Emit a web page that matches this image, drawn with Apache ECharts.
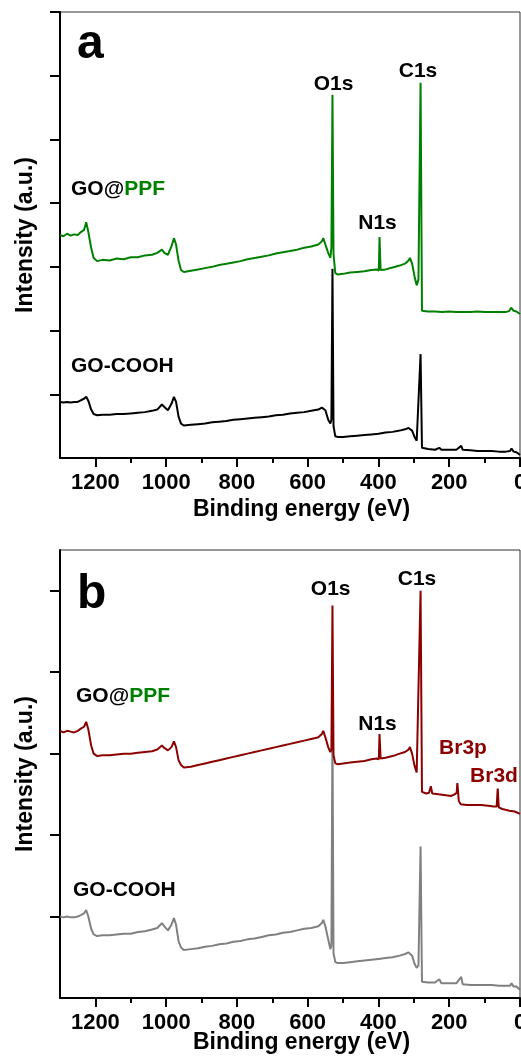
<!DOCTYPE html>
<html><head><meta charset="utf-8">
<script src="https://cdn.jsdelivr.net/npm/echarts@6/dist/echarts.min.js"></script>
<style>html,body{margin:0;padding:0;background:#fff;overflow:hidden}#c{width:521px;height:1063px}</style>
</head><body><div id="c"></div>
<script>
// ---- tick values ----
const xMajorTicks = [0, 200, 400, 600, 800, 1000, 1200];
const xMinorTicks = [100, 300, 500, 700, 900, 1100];
const yTicksA = [1, 2, 3, 4, 5, 6, 7];
const yTicksB = [1, 2, 3, 4, 5];

// ---- panel a : [binding energy (eV), intensity (a.u.)] ----
const goCoohA = [[1300,0.88],[1290,0.87],[1280,0.88],[1270,0.87],[1260,0.88],[1250,0.88],[1240,0.91],[1232,0.93],[1226,0.96],[1220,0.90],[1212,0.76],[1205,0.69],[1195,0.67],[1180,0.68],[1160,0.68],[1140,0.69],[1120,0.69],[1100,0.70],[1080,0.71],[1060,0.72],[1040,0.74],[1025,0.76],[1012,0.84],[1005,0.80],[995,0.75],[985,0.85],[978,0.96],[972,0.88],[965,0.65],[958,0.54],[950,0.51],[930,0.52],[910,0.53],[890,0.54],[870,0.56],[850,0.57],[830,0.58],[810,0.60],[790,0.61],[770,0.62],[750,0.63],[730,0.64],[710,0.65],[690,0.67],[670,0.68],[650,0.70],[630,0.71],[610,0.72],[590,0.74],[570,0.76],[560,0.79],[556,0.82],[550,0.75],[542,0.60],[536,0.54],[533,0.60],[530,2.97],[527,0.50],[522,0.34],[515,0.33],[500,0.33],[480,0.34],[460,0.35],[440,0.36],[420,0.37],[400,0.38],[380,0.40],[360,0.41],[340,0.43],[325,0.45],[315,0.47],[311,0.48],[305,0.43],[298,0.33],[292,0.27],[287,0.30],[281,1.63],[277,0.16],[260,0.14],[240,0.13],[228,0.16],[222,0.13],[200,0.13],[180,0.13],[166,0.19],[162,0.13],[140,0.12],[120,0.11],[100,0.11],[80,0.11],[60,0.10],[40,0.10],[28,0.11],[24,0.15],[18,0.10],[10,0.09],[0,0.05]];
const goPpfA = [[1300,3.50],[1290,3.48],[1280,3.52],[1270,3.49],[1260,3.51],[1250,3.50],[1240,3.55],[1232,3.58],[1226,3.70],[1220,3.55],[1212,3.30],[1205,3.14],[1195,3.09],[1180,3.11],[1160,3.10],[1140,3.13],[1120,3.12],[1100,3.15],[1080,3.15],[1060,3.18],[1040,3.19],[1025,3.22],[1012,3.27],[1005,3.22],[995,3.19],[985,3.32],[978,3.45],[972,3.35],[965,3.10],[958,2.95],[950,2.92],[930,2.94],[910,2.96],[890,2.98],[870,3.00],[850,3.03],[830,3.05],[810,3.07],[790,3.09],[770,3.12],[750,3.14],[730,3.16],[710,3.18],[690,3.21],[670,3.23],[650,3.25],[630,3.27],[610,3.30],[590,3.32],[570,3.35],[560,3.40],[556,3.45],[550,3.35],[542,3.22],[536,3.14],[533,3.30],[530,5.70],[527,3.20],[522,2.90],[515,2.88],[500,2.89],[480,2.91],[460,2.92],[440,2.93],[420,2.95],[405,2.96],[399,2.94],[397,3.47],[394,2.95],[380,2.96],[360,2.99],[340,3.02],[325,3.05],[315,3.10],[311,3.14],[305,3.05],[298,2.85],[292,2.71],[287,2.80],[281,5.89],[277,2.31],[260,2.30],[240,2.30],[220,2.29],[200,2.30],[180,2.29],[160,2.29],[140,2.29],[120,2.30],[100,2.29],[80,2.29],[60,2.29],[40,2.29],[30,2.31],[25,2.36],[18,2.31],[10,2.30],[0,2.26]];

// ---- panel b ----
const goCoohB = [[1300,1.00],[1290,0.99],[1280,1.00],[1270,0.99],[1260,0.99],[1250,1.00],[1240,1.02],[1232,1.04],[1226,1.08],[1220,1.00],[1212,0.85],[1205,0.78],[1195,0.76],[1180,0.77],[1160,0.77],[1140,0.78],[1120,0.79],[1100,0.79],[1080,0.81],[1060,0.82],[1040,0.84],[1025,0.86],[1012,0.92],[1005,0.88],[995,0.83],[985,0.90],[978,0.98],[972,0.90],[965,0.70],[958,0.62],[950,0.59],[930,0.60],[910,0.61],[890,0.63],[870,0.64],[850,0.66],[830,0.67],[810,0.69],[790,0.70],[770,0.72],[750,0.73],[730,0.75],[710,0.77],[690,0.78],[670,0.80],[650,0.81],[630,0.83],[610,0.85],[590,0.86],[570,0.88],[560,0.92],[556,0.96],[550,0.88],[542,0.72],[536,0.60],[533,0.65],[530,3.30],[527,0.55],[522,0.44],[515,0.43],[500,0.43],[480,0.44],[460,0.45],[440,0.46],[420,0.47],[400,0.48],[380,0.49],[360,0.50],[340,0.52],[325,0.54],[315,0.56],[311,0.57],[305,0.52],[298,0.42],[292,0.37],[287,0.40],[281,1.86],[277,0.20],[260,0.19],[240,0.19],[228,0.23],[222,0.18],[200,0.18],[180,0.18],[166,0.26],[162,0.17],[140,0.16],[120,0.16],[100,0.16],[80,0.16],[60,0.15],[40,0.15],[28,0.15],[24,0.18],[18,0.14],[10,0.14],[0,0.10]];
const goPpfB = [[1300,3.28],[1290,3.26],[1280,3.28],[1270,3.27],[1260,3.26],[1250,3.28],[1240,3.31],[1232,3.33],[1226,3.39],[1220,3.30],[1212,3.10],[1205,3.00],[1195,2.97],[1180,2.98],[1160,2.98],[1140,2.99],[1120,3.00],[1100,3.00],[1080,3.01],[1060,3.02],[1040,3.03],[1025,3.05],[1012,3.10],[1005,3.07],[995,3.04],[985,3.08],[978,3.15],[972,3.08],[965,2.92],[958,2.86],[950,2.83],[930,2.84],[910,2.86],[890,2.88],[870,2.90],[850,2.92],[830,2.94],[810,2.96],[790,2.98],[770,3.00],[750,3.02],[730,3.04],[710,3.06],[690,3.08],[670,3.10],[650,3.12],[630,3.14],[610,3.16],[590,3.18],[570,3.20],[560,3.24],[556,3.28],[550,3.20],[542,3.08],[536,3.02],[533,3.05],[530,4.82],[527,2.98],[522,2.88],[515,2.87],[500,2.88],[480,2.89],[460,2.90],[440,2.91],[420,2.93],[405,2.94],[399,2.93],[397,3.24],[394,2.94],[380,2.95],[360,2.97],[340,3.00],[325,3.02],[315,3.05],[311,3.08],[305,3.00],[298,2.85],[292,2.77],[287,2.76],[281,5.00],[277,2.53],[265,2.51],[257,2.52],[252,2.60],[248,2.51],[230,2.50],[210,2.49],[195,2.48],[185,2.50],[179,2.52],[177,2.64],[173,2.42],[168,2.38],[150,2.37],[130,2.37],[110,2.37],[90,2.36],[75,2.35],[66,2.35],[63,2.57],[60,2.34],[50,2.32],[30,2.30],[15,2.29],[0,2.26]];

// ---- texts ----
const panelLetters = ['a', 'b'];
const sampleNames = ['GO-COOH', 'GO@', 'PPF'];
const peakNamesA = ['O1s', 'C1s', 'N1s'];
const peakNamesB = ['O1s', 'C1s', 'N1s', 'Br3p', 'Br3d'];
const xName = 'Binding energy (eV)';
const yName = 'Intensity (a.u.)';

// ---- styling ----
const FF = '"Liberation Sans", Arial, Helvetica, sans-serif';
const GREEN = '#008000', DARKRED = '#8b0000', GRAY = '#808080', BLACK = '#000';

const chart = echarts.init(document.getElementById('c'), null, {renderer: 'canvas'});

function xAxes(gi) {
  return [{
    gridIndex: gi, type: 'value', inverse: true, min: 0, max: 1300, interval: 200, position: 'bottom',
    axisLine: {show: true, onZero: false, lineStyle: {color: BLACK, width: 2}},
    axisTick: {show: true, inside: false, length: 9, lineStyle: {color: BLACK, width: 2}, customValues: xMajorTicks},
    axisLabel: {show: true, customValues: xMajorTicks, margin: 14, color: BLACK, fontSize: 22, fontWeight: 'bold', fontFamily: FF,
      formatter: function (v) { return String(v); }},
    splitLine: {show: false}
  }, {
    gridIndex: gi, type: 'value', inverse: true, min: 0, max: 1300, interval: 100, position: 'bottom',
    axisLine: {show: false},
    axisTick: {show: true, inside: false, length: 5, lineStyle: {color: BLACK, width: 2}, customValues: xMinorTicks},
    axisLabel: {show: false},
    splitLine: {show: false}
  }];
}
function yAxis(gi, max, ticks) {
  return {
    gridIndex: gi, type: 'value', min: 0, max: max, interval: 1,
    axisLine: {show: true, onZero: false, lineStyle: {color: BLACK, width: 2}},
    axisTick: {show: true, inside: false, length: 10, lineStyle: {color: BLACK, width: 2}, customValues: ticks},
    axisLabel: {show: false},
    splitLine: {show: false},
    name: yName, nameLocation: 'middle', nameGap: 23,
    nameTextStyle: {color: BLACK, fontSize: 23, fontWeight: 'bold', fontFamily: FF}
  };
}
function line(xi, yi, data, color, z) {
  return {type: 'line', xAxisIndex: xi, yAxisIndex: yi, data: data, showSymbol: false, symbol: 'none',
    lineStyle: {color: color, width: 2}, itemStyle: {color: color}, z: z, silent: true};
}
function txt(text, x, y, opt) {
  opt = opt || {};
  return {type: 'text', x: x, y: y, z: 100, silent: true, style: {
    text: text, fill: opt.fill || BLACK, align: opt.align || 'left', verticalAlign: 'middle',
    fontFamily: FF, fontWeight: 'bold', fontSize: opt.size || 21, rich: opt.rich
  }};
}
const richSample = {
  k: {fill: BLACK, fontFamily: FF, fontWeight: 'bold', fontSize: 21},
  g: {fill: GREEN, fontFamily: FF, fontWeight: 'bold', fontSize: 21}
};
const ppfText = '{k|' + sampleNames[1] + '}{g|' + sampleNames[2] + '}';

const gridBase = {show: true, borderColor: '#333', borderWidth: 1, backgroundColor: 'transparent',
  containLabel: false, outerBoundsMode: 'none'};

chart.setOption({
  animation: false,
  backgroundColor: '#fff',
  grid: [
    Object.assign({left: 60, top: 12, width: 460, height: 446}, gridBase),
    Object.assign({left: 60, top: 550, width: 460, height: 448}, gridBase)
  ],
  xAxis: [].concat(xAxes(0), xAxes(1)),
  yAxis: [yAxis(0, 7, yTicksA), yAxis(1, 5.5, yTicksB)],
  series: [
    line(0, 0, goCoohA, BLACK, 2),
    line(0, 0, goPpfA, GREEN, 3),
    line(2, 1, goCoohB, GRAY, 2),
    line(2, 1, goPpfB, DARKRED, 3)
  ],
  graphic: [
    txt(panelLetters[0], 77, 45, {size: 48}),
    txt(ppfText, 71, 189, {rich: richSample}),
    txt(sampleNames[0], 71, 366),
    txt(peakNamesA[0], 333.5, 84, {align: 'center'}),
    txt(peakNamesA[1], 418, 71, {align: 'center'}),
    txt(peakNamesA[2], 377.5, 223, {align: 'center'}),
    txt(xName, 301.5, 510, {align: 'center', size: 23}),

    txt(panelLetters[1], 77, 595, {size: 48}),
    txt(ppfText, 76, 696, {rich: richSample}),
    txt(sampleNames[0], 73, 890),
    txt(peakNamesB[0], 330.7, 589, {align: 'center'}),
    txt(peakNamesB[1], 417, 579, {align: 'center'}),
    txt(peakNamesB[2], 377.5, 724, {align: 'center'}),
    txt(peakNamesB[3], 463, 748, {align: 'center', fill: DARKRED}),
    txt(peakNamesB[4], 494, 776, {align: 'center', fill: DARKRED}),
    txt(xName, 301.5, 1043, {align: 'center', size: 23})
  ]
});
</script></body></html>
